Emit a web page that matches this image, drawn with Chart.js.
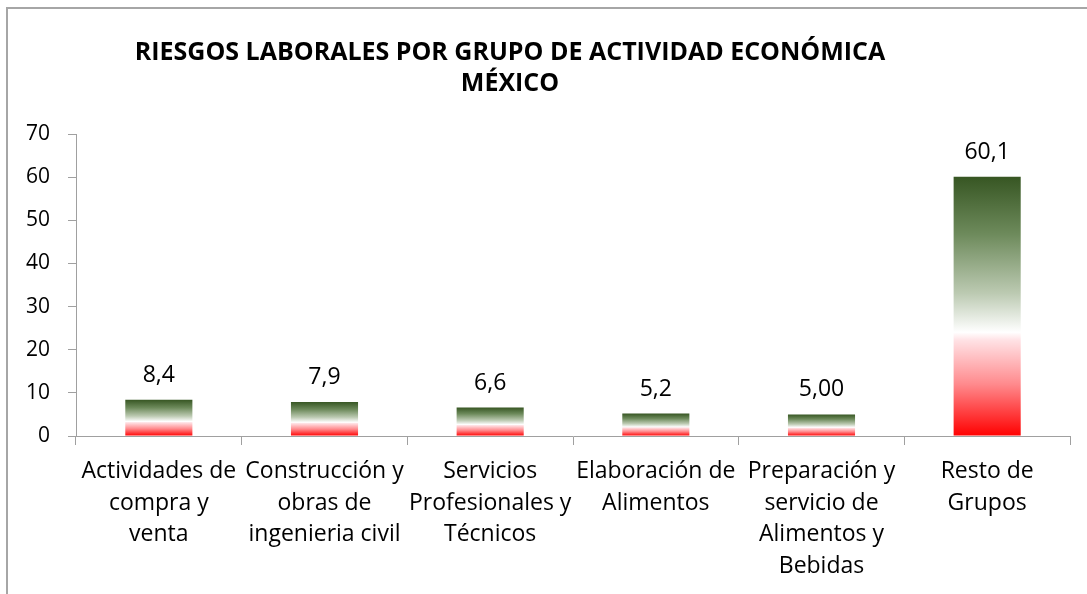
<!DOCTYPE html>
<html>
<head>
<meta charset="utf-8">
<script src="https://cdn.jsdelivr.net/npm/chart.js@4.4.1/dist/chart.umd.min.js"></script>
<style>
html,body{margin:0;padding:0;background:#ffffff;}
#wrap{position:relative;width:1087px;height:594px;overflow:hidden;background:#fff;}
#frame{position:absolute;left:6px;top:7px;width:1200px;height:700px;border-left:2px solid #a6a6a6;border-top:2px solid #a6a6a6;}
#c{position:absolute;left:0;top:0;}
</style>
</head>
<body>
<div id="wrap"><div id="frame"></div><canvas id="c" width="1087" height="594"></canvas></div>
<script>
// ---- data ----
const categories = [
  ["Actividades de", "compra y", "venta"],
  ["Construcción y", "obras de", "ingenieria civil"],
  ["Servicios", "Profesionales y", "Técnicos"],
  ["Elaboración de", "Alimentos"],
  ["Preparación y", "servicio de", "Alimentos y", "Bebidas"],
  ["Resto de", "Grupos"]
];
const values = [8.4, 7.9, 6.6, 5.2, 5.0, 60.1];
const valueLabels = ["8,4", "7,9", "6,6", "5,2", "5,00", "60,1"];
const yTicks = [0, 10, 20, 30, 40, 50, 60, 70];
const titleLines = ["RIESGOS LABORALES POR GRUPO DE ACTIVIDAD ECONÓMICA", "MÉXICO"];

const FONT = "'Open Sans', 'Noto Sans', sans-serif";
const AXIS = '#a0a0a0';

function barGradient(ctx) {
  const chart = ctx.chart;
  const ys = chart.scales.y;
  if (!chart.chartArea || !ys) return '#ff0000';
  const v = ctx.raw;
  const top = ys.getPixelForValue(v);
  const base = ys.getPixelForValue(0);
  if (!isFinite(top) || !isFinite(base) || top === base) return '#ff0000';
  const g = chart.ctx.createLinearGradient(0, top, 0, base);
  g.addColorStop(0, '#375623');
  g.addColorStop(0.22, '#6d8a5b');
  g.addColorStop(0.45, '#bccab2');
  g.addColorStop(0.6, '#ffffff');
  g.addColorStop(0.63, '#ffe2e5');
  g.addColorStop(0.8, '#ff8a8d');
  g.addColorStop(1, '#ff0000');
  return g;
}

const titlePlugin = {
  id: 'twoLineTitle',
  afterDraw(chart) {
    const c = chart.ctx;
    c.save();
    c.fillStyle = '#000';
    c.font = "bold 25px " + FONT;
    c.textAlign = 'center';
    c.textBaseline = 'alphabetic';
    c.fillText(titleLines[0], 510, 60);
    c.fillText(titleLines[1], 510, 91);
    c.restore();
  }
};

const valueLabelPlugin = {
  id: 'valueLabels',
  afterDatasetsDraw(chart) {
    const c = chart.ctx;
    const meta = chart.getDatasetMeta(0);
    c.save();
    c.fillStyle = '#000';
    c.font = "23px " + FONT;
    c.textAlign = 'center';
    c.textBaseline = 'alphabetic';
    meta.data.forEach((bar, i) => {
      c.fillText(valueLabels[i], bar.x, bar.y - 18);
    });
    c.restore();
  }
};

new Chart(document.getElementById('c'), {
  type: 'bar',
  data: {
    labels: categories,
    datasets: [{
      data: values,
      backgroundColor: barGradient,
      borderWidth: 0,
      categoryPercentage: 1.0,
      barPercentage: 0.405
    }]
  },
  options: {
    responsive: false,
    animation: false,
    devicePixelRatio: 1,
    layout: { padding: { top: 134, right: 17, left: 0, bottom: 0 } },
    plugins: {
      legend: { display: false },
      title: { display: false },
      tooltip: { enabled: false }
    },
    scales: {
      y: {
        min: 0, max: 70,
        afterBuildTicks(scale) { scale.ticks = yTicks.map(v => ({ value: v })); },
        afterFit(scale) { scale.width = 76; },
        ticks: { color: '#000', font: { family: FONT, size: 21 }, padding: 18 },
        grid: { display: true, drawOnChartArea: false, drawTicks: true, tickLength: 8, color: AXIS, lineWidth: 1 },
        border: { display: true, color: AXIS, width: 1 }
      },
      x: {
        afterFit(scale) { scale.height = 158; },
        ticks: { color: '#000', font: { family: FONT, size: 23, lineHeight: 1.39 }, padding: 10, maxRotation: 0, autoSkip: false },
        grid: { display: true, offset: true, drawOnChartArea: false, drawTicks: true, tickLength: 9, color: AXIS, lineWidth: 1 },
        border: { display: true, color: AXIS, width: 1 }
      }
    }
  },
  plugins: [titlePlugin, valueLabelPlugin]
});
</script>
</body>
</html>
